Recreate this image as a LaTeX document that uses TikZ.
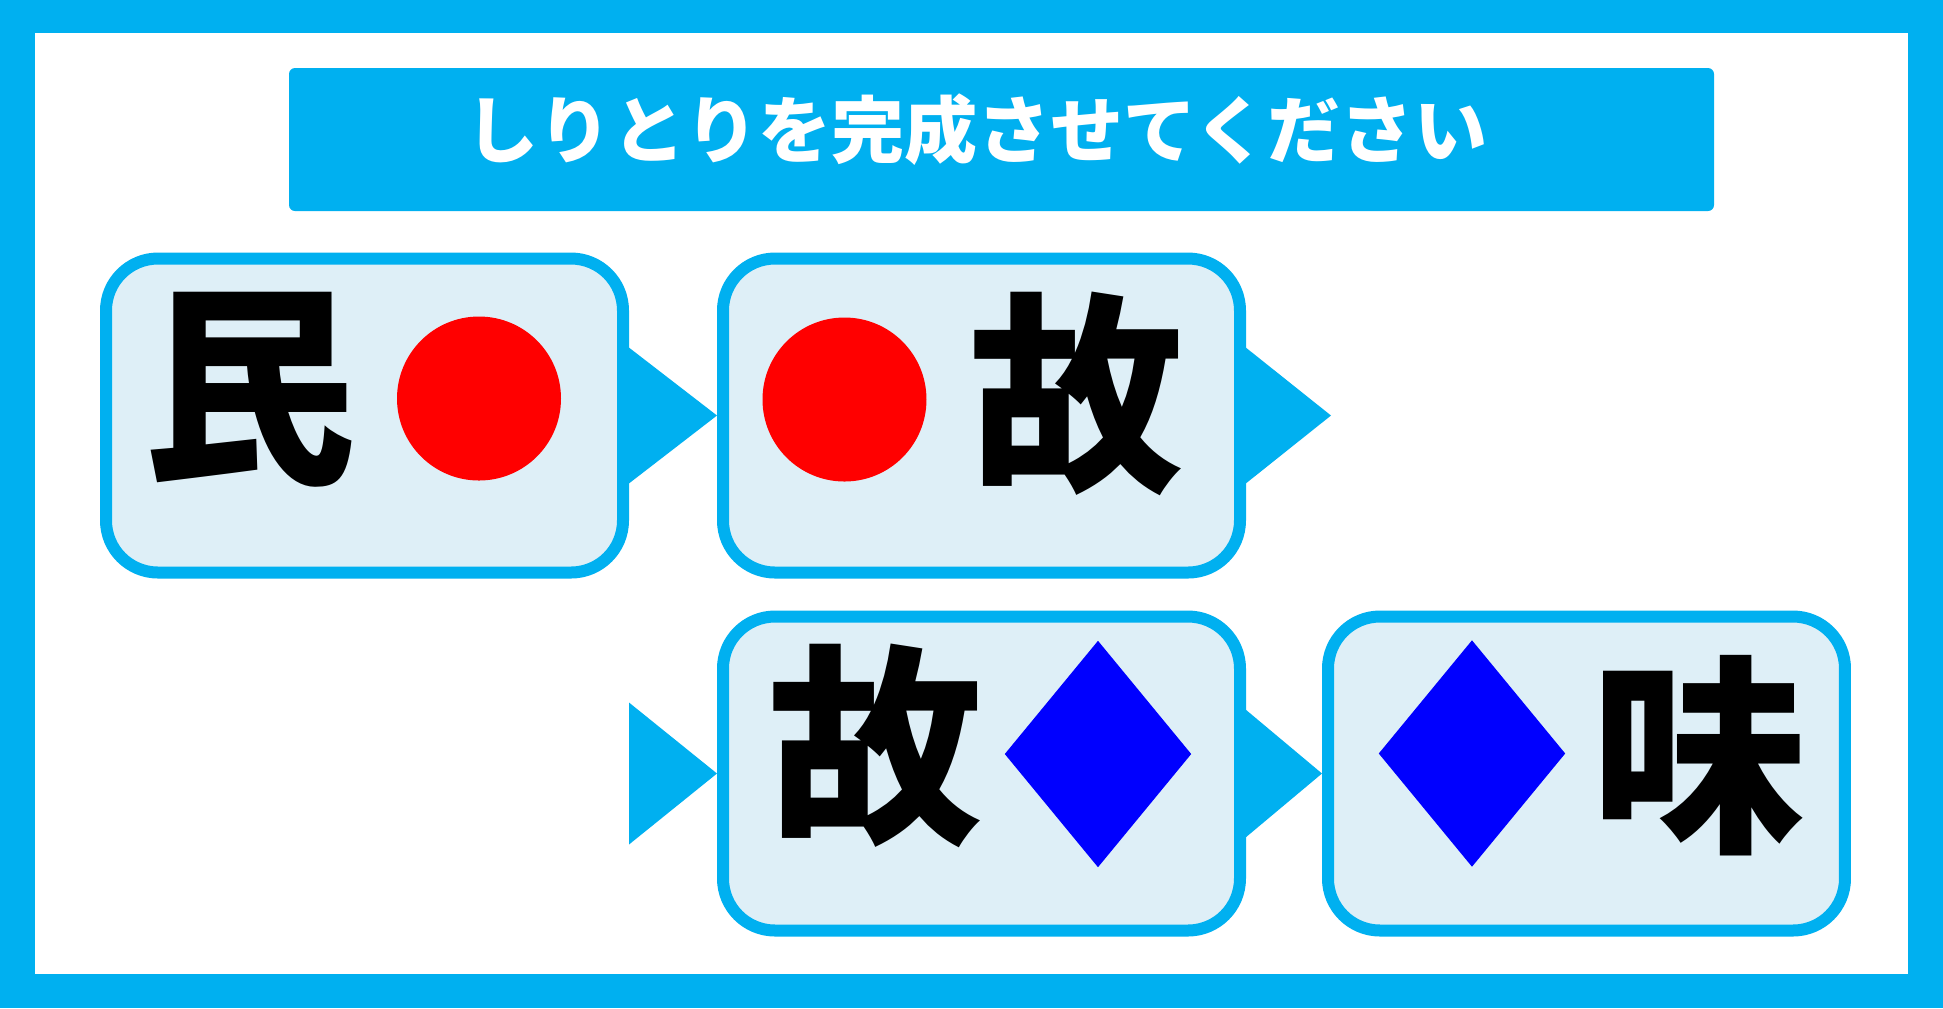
\documentclass[tikz,border=0pt]{standalone}
\usepackage{fontspec}
\usepackage{tikz}
\usetikzlibrary{positioning, calc, shapes.geometric}

\newfontfamily\jpfont{Noto Sans CJK JP}
\definecolor{frameblue}{RGB}{0,176,240}
\definecolor{boxfill}{RGB}{222,239,247}

\begin{document}
\begin{tikzpicture}[x=0.1mm, y=-0.1mm, node distance=8.8mm, auto]
        % Define block styles
        \tikzstyle{block} = [rectangle, draw=frameblue, line width=1.2mm, fill=boxfill, minimum width=51.7mm, minimum height=31.4mm, rounded corners=5.2mm]
        \tikzstyle{titlebar} = [rectangle, fill=frameblue, minimum width=142.5mm, minimum height=14.3mm, rounded corners=0.6mm]
        \tikzstyle{titletext} = [text=white, inner sep=0pt, font=\jpfont\bfseries\fontsize{20.8pt}{20.8pt}\selectfont]
        \tikzstyle{kanji} = [inner sep=0pt, font=\jpfont\bfseries\fontsize{61pt}{61pt}\selectfont]
        \tikzstyle{dot} = [circle, fill=red, minimum size=16.4mm, inner sep=0pt]
        \tikzstyle{gem} = [diamond, fill=blue, minimum width=18.7mm, minimum height=22.7mm, inner sep=0pt]
        \tikzstyle{tab} = [fill=frameblue]

        % Frame and title
        \useasboundingbox (0,0) rectangle (1943,1008);
        \fill [frameblue] (0,0) rectangle (1943,1008);
        \fill [white] (35,33) rectangle (1908,974);
        \node [titlebar] (title) at (1001.5,139.5) {};
        \node [titletext] (title_text) at ($(title)+(-25,-10)$) {しりとりを完成させてください};

        % Place nodes
        \node [block] (first_word) at (364.5,415.5) {};
        \node [block, right=of first_word] (second_word) {};
        \node [block, below=3.2mm of second_word] (third_word) {};
        \node [block, right=7.6mm of third_word] (fourth_word) {};

        % Fill the words
        \node [kanji] (min) at ($(first_word)+(-115,-25.5)$) {民};
        \node [dot] (first_dot) at ($(first_word)+(114.5,-17)$) {};
        \node [dot] (second_dot) at ($(second_word)+(-137,-16)$) {};
        \node [kanji] (ko_top) at ($(second_word)+(95,-22)$) {故};
        \node [kanji] (ko_bottom) at ($(third_word)+(-105.5,-28)$) {故};
        \node [gem] (first_gem) at ($(third_word)+(116.5,-19.5)$) {};
        \node [gem] (second_gem) at ($(fourth_word)+(-114.5,-20)$) {};
        \node [kanji] (mi) at ($(fourth_word)+(112.5,-17.5)$) {味};

        % Draw connections as arrows
        \coordinate (loose_end) at ($(second_word.east)+(85,0)$);
        \coordinate (loose_start) at (first_word.east |- third_word.west);
        \fill [tab] ($(first_word.east)+(-4,-71)$) -- (second_word.west) -- ($(first_word.east)+(-4,71)$) -- cycle;
        \fill [tab] ($(second_word.east)+(-4,-71)$) -- (loose_end) -- ($(second_word.east)+(-4,71)$) -- cycle;
        \fill [tab] ($(loose_start)+(0,-71)$) -- (third_word.west) -- ($(loose_start)+(0,71)$) -- cycle;
        \fill [tab] ($(third_word.east)+(-4,-67)$) -- (fourth_word.west) -- ($(third_word.east)+(-4,67)$) -- cycle;
    \end{tikzpicture}
\end{document}
